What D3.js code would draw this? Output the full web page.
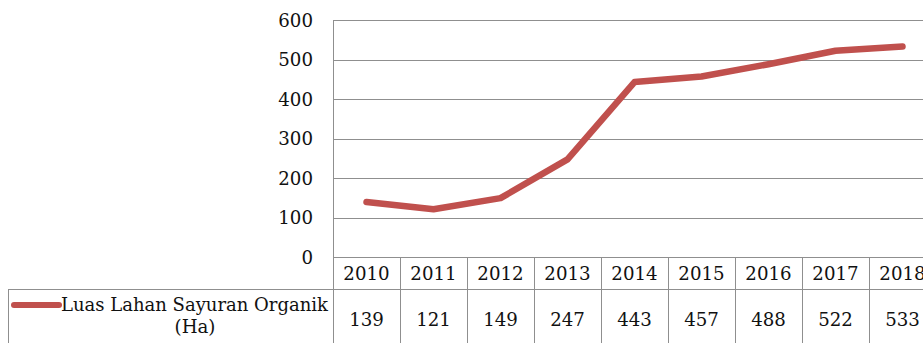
<!DOCTYPE html>
<html><head><meta charset="utf-8">
<script src="https://cdn.jsdelivr.net/npm/d3@7"></script>
<style>
html,body{margin:0;padding:0;background:#fff;overflow:hidden}
text{font-family:"DejaVu Serif",serif;fill:#111}
</style></head><body>
<svg id="c" width="923" height="343"></svg>
<script>
const years = ["2010","2011","2012","2013","2014","2015","2016","2017","2018"];
const values = [139,121,149,247,443,457,488,522,533];
const yTicks = [0,100,200,300,400,500,600];
const seriesName = ["Luas Lahan Sayuran Organik", "(Ha)"];

(function(){
const svg = d3.select("#c");
const fs = 18.2;
const left = 333, colW = 67, plotTop = 20, zeroY = 257;
const x = d3.scaleBand().domain(years).range([left, left + colW*years.length]).padding(0);
const y = d3.scaleLinear().domain([0,600]).range([zeroY, plotTop]);
const grid = "#8f8f8f";

// gridlines
const ax = svg.append("g").attr("transform",`translate(${left},0)`)
  .call(d3.axisLeft(y).tickValues(yTicks).tickSize(-(colW*years.length)).tickPadding(20).tickFormat(d3.format("d")));
ax.select(".domain").remove();
ax.selectAll(".tick line").attr("stroke",grid).attr("stroke-width",1).attr("shape-rendering","crispEdges");
ax.selectAll(".tick text").attr("font-size",fs).attr("font-family","DejaVu Serif").attr("fill","#111").attr("dy","0.35em");

// table
const rowTop = zeroY, rowMid = 289, rowBot = 360;
const t = svg.append("g").attr("stroke",grid).attr("stroke-width",1).attr("shape-rendering","crispEdges");
t.append("line").attr("x1",left).attr("x2",left).attr("y1",plotTop).attr("y2",rowBot);
t.append("line").attr("x1",8).attr("x2",left+colW*years.length).attr("y1",rowMid).attr("y2",rowMid);
t.append("line").attr("x1",8).attr("x2",8).attr("y1",rowMid).attr("y2",rowBot);
years.forEach(yr=>{
  t.append("line").attr("x1",x(yr)+colW).attr("x2",x(yr)+colW).attr("y1",rowTop).attr("y2",rowBot);
});
svg.append("g").selectAll("text").data(years).join("text")
  .attr("x",d=>x(d)+colW/2).attr("y",274).attr("dy","0.35em")
  .attr("text-anchor","middle").attr("font-size",fs).text(d=>d);
svg.append("g").selectAll("text").data(values).join("text")
  .attr("x",(d,i)=>x(years[i])+colW/2).attr("y",320).attr("dy","0.35em")
  .attr("text-anchor","middle").attr("font-size",fs).text(d=>d);

// legend
const red = "#C0504D";
svg.append("line").attr("x1",14).attr("x2",59).attr("y1",305).attr("y2",305)
  .attr("stroke",red).attr("stroke-width",6).attr("stroke-linecap","round");
svg.append("text").attr("x",61).attr("y",305).attr("dy","0.35em").attr("font-size",fs).attr("textLength",267).attr("lengthAdjust","spacingAndGlyphs").text(seriesName[0]);
svg.append("text").attr("x",195).attr("y",327).attr("dy","0.35em").attr("text-anchor","middle").attr("font-size",fs).text(seriesName[1]);

// line
const line = d3.line().x((d,i)=>x(years[i])+colW/2).y(d=>y(d));
svg.append("path").datum(values).attr("d",line).attr("fill","none")
  .attr("stroke",red).attr("stroke-width",6.5).attr("stroke-linecap","round").attr("stroke-linejoin","round");
})();
</script>
</body></html>
